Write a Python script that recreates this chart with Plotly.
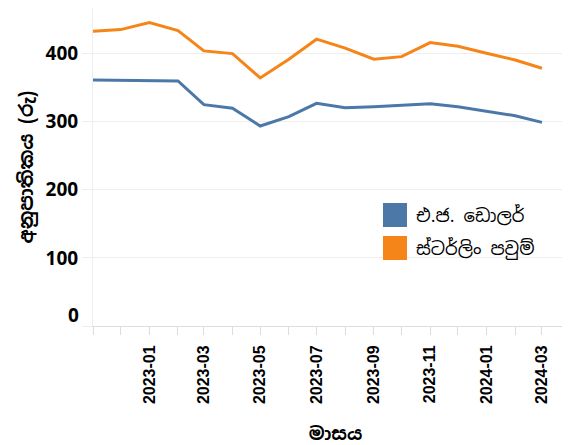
import plotly.graph_objects as go

months = ["2022-11-01", "2022-12-01", "2023-01-01", "2023-02-01", "2023-03-01", "2023-04-01",
          "2023-05-01", "2023-06-01", "2023-07-01", "2023-08-01", "2023-09-01", "2023-10-01",
          "2023-11-01", "2023-12-01", "2024-01-01", "2024-02-01", "2024-03-01"]
usd = [361.3, 361.0, 360.3, 359.9, 325.0, 319.7, 293.7, 307.4, 327.0, 320.6, 322.0, 324.6,
       326.5, 322.0, 315.7, 308.8, 299.0]
gbp = [432.9, 435.3, 445.6, 433.8, 404.0, 400.0, 364.3, 391.8, 421.2, 408.0, 391.8, 395.6,
       416.2, 410.9, 400.5, 390.7, 378.5]
series_names = ["එ.ජ. ඩොලර්", "ස්ටර්ලිං පවුම්"]
colors = ["#4c78a8", "#f58518"]
x_tick_labels = ["2023-01", "2023-03", "2023-05", "2023-07", "2023-09", "2023-11", "2024-01", "2024-03"]
y_ticks = [0, 100, 200, 300, 400]

sinhala_font = "Noto Sans Sinhala, Noto Sans, sans-serif"

fig = go.Figure()
for name, vals, col in zip(series_names, [usd, gbp], colors):
    fig.add_trace(go.Scatter(x=months, y=vals, mode="lines", name=name,
                             line=dict(color=col, width=3), showlegend=False))

OFF = 8  # page body margin
W, H = 570, 445
ml, mr, mt, mb = 85, 0, 0, 127
pw, ph = W - ml - mr, H - mt - mb

def px_x(p):  # screen px -> paper
    return (p - OFF - ml) / pw

def px_y(p):
    return 1 - (p - OFF - mt) / ph

# legend (squares + labels)
for i, (name, col) in enumerate(zip(series_names, colors)):
    top = 203 + i * 33
    fig.add_shape(type="rect", xref="paper", yref="paper",
                  x0=px_x(383), x1=px_x(407), y0=px_y(top + 24), y1=px_y(top),
                  fillcolor=col, line=dict(width=0))
    fig.add_annotation(xref="paper", yref="paper", x=px_x(414), y=px_y(top + 12),
                       text=name, showarrow=False, xanchor="left", yanchor="middle",
                       font=dict(size=18, color="black", family=sinhala_font))

# flush "0" label like the reference (shifted up inside the plot)
fig.add_annotation(xref="paper", yref="y", x=px_x(81), y=0, yshift=11,
                   text="0", showarrow=False, xanchor="right", yanchor="middle",
                   font=dict(size=19, color="black", family="Open Sans, sans-serif", weight="bold"))

fig.update_layout(
    width=W, height=H,
    margin=dict(l=ml, r=mr, t=mt, b=mb),
    plot_bgcolor="white", paper_bgcolor="white",
    font=dict(family="Open Sans, sans-serif", color="black"),
)
fig.update_xaxes(
    range=["2022-11-01", "2024-04-09"],
    tickvals=[t + "-01" for t in x_tick_labels], ticktext=x_tick_labels,
    tickangle=-90,
    tickfont=dict(family="Liberation Sans, Arial, sans-serif", size=16, color="black", weight="bold"),
    ticks="outside", ticklen=8, tickcolor="#dddddd", ticklabelstandoff=4,
    minor=dict(dtick="M1", tick0="2022-11-01", ticks="outside", ticklen=8, tickcolor="#dddddd", showgrid=False),
    showgrid=False, showline=True, linecolor="#dddddd", linewidth=1,
    automargin=False,
    title=dict(text="<b>මාසය</b>", font=dict(size=18, family=sinhala_font), standoff=24),
)
fig.update_yaxes(
    range=[0, 467], tickvals=y_ticks, ticktext=["", "100", "200", "300", "400"],
    tickfont=dict(family="Open Sans, sans-serif", size=19, color="black", weight="bold"),
    ticks="outside", ticklen=10, tickcolor="#eeeeee",
    showgrid=True, gridcolor="#eeeeee", gridwidth=1,
    showline=True, linecolor="#eeeeee", linewidth=1,
    zeroline=False, automargin=False,
    title=dict(text="<b>අනුපාතිකය (රු)</b>", font=dict(size=19, family=sinhala_font), standoff=6),
)

fig.write_html("out.html")
